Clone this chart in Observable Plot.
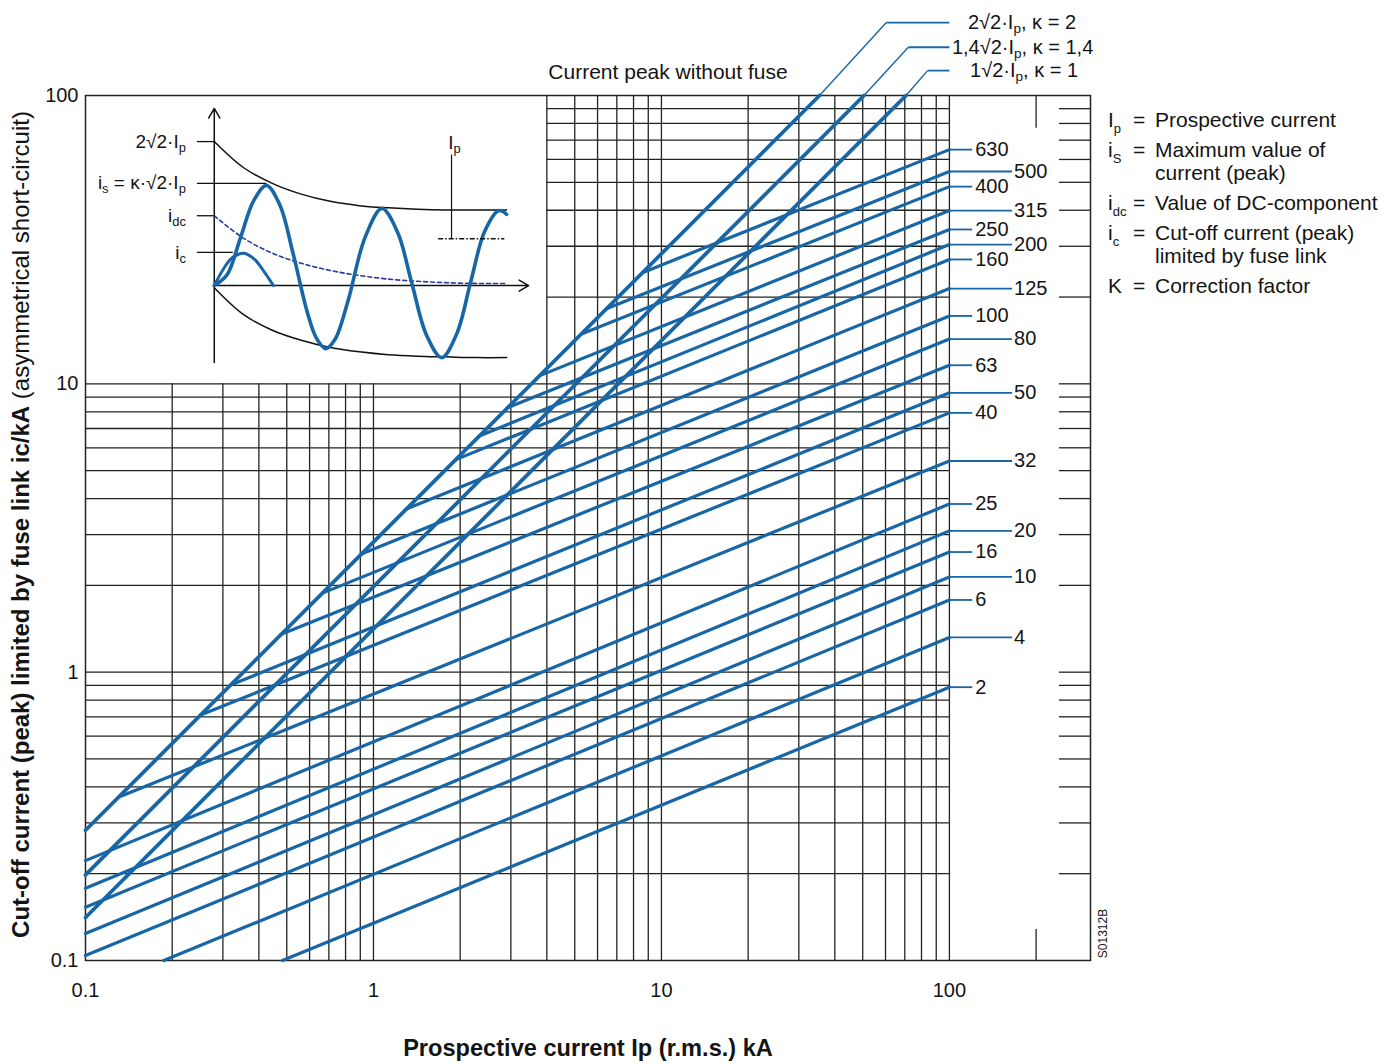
<!DOCTYPE html>
<html>
<head>
<meta charset="utf-8">
<script src="https://cdn.jsdelivr.net/npm/d3@7"></script>
<script src="https://cdn.jsdelivr.net/npm/@observablehq/plot@0.6"></script>
<style>
  html, body { margin: 0; padding: 0; background: #fff; }
  body { font-family: "Liberation Sans", Arial, Helvetica, sans-serif; color: #141414; }
  #wrap { position: relative; width: 1400px; height: 1064px; overflow: hidden; }
  #wrap svg { display: block; }
  #inset { position: absolute; left: 85px; top: 95px; width: 460px; height: 288px; }
  .leg { position: absolute; left: 1108px; font-size: 21px; line-height: 23px; white-space: nowrap; }
  .leg .sym { display: inline-block; width: 25px; }
  .leg .eq { display: inline-block; width: 22px; }
  .leg .cont { margin-left: 47px; }
  .leg sub { font-size: 13px; vertical-align: -6px; line-height: 0; }
</style>
</head>
<body>
<div id="wrap">
  <div id="main"></div>
  <div id="inset"></div>
  <div class="leg" style="top:108px"><span class="sym">I<sub>p</sub></span><span class="eq">=</span>Prospective current</div>
  <div class="leg" style="top:138px"><span class="sym">i<sub>S</sub></span><span class="eq">=</span>Maximum value of<div class="cont">current (peak)</div></div>
  <div class="leg" style="top:191px"><span class="sym">i<sub>dc</sub></span><span class="eq">=</span>Value of DC-component</div>
  <div class="leg" style="top:221px"><span class="sym">i<sub>c</sub></span><span class="eq">=</span>Cut-off current (peak)<div class="cont">limited by fuse link</div></div>
  <div class="leg" style="top:274px"><span class="sym">K</span><span class="eq">=</span>Correction factor</div>
</div>
<script>
// ---------------- data ----------------
const xTickValues = [0.1, 1, 10, 100];
const xTickLabels = ["0.1", "1", "10", "100"];
const yTickValues = [0.1, 1, 10, 100];
const yTickLabels = ["0.1", "1", "10", "100"];
const gridValues = [0.2, 0.3, 0.4, 0.5, 0.6, 0.7, 0.8, 0.9, 1, 2, 3, 4, 5, 6, 7, 8, 9, 10, 20, 30, 40, 50, 60, 70, 80, 90];

// fuse link ratings (A), start point (Ip kA, ic kA) and cut-off current at Ip = 100 kA
const fuseRatings = [2, 4, 6, 10, 16, 20, 25, 32, 40, 50, 63, 80, 100, 125, 160, 200, 250, 315, 400, 500, 630];
const fuseStartIp = [0.483, 0.187, 0.1, 0.1, 0.1, 0.1, 0.1, 0.130, 0.251, 0.319, 0.476, 0.665, 0.908, 1.30, 1.93, 2.33, 2.92, 3.80, 5.28, 6.44, 8.59];
const fuseStartIc = [0.1, 0.1, 0.104, 0.124, 0.153, 0.178, 0.222, 0.368, 0.710, 0.902, 1.35, 1.88, 2.57, 3.68, 5.46, 6.59, 8.26, 10.7, 14.9, 18.2, 24.3];
const fuseEndIc = [0.887, 1.32, 1.78, 2.14, 2.61, 3.09, 3.83, 5.40, 7.93, 9.31, 11.6, 14.3, 17.2, 21.4, 27.0, 30.4, 34.3, 39.9, 48.3, 54.5, 64.9];
const fuseEndIp = 100;
const fuseLongLeader = [false, true, false, true, false, true, false, true, false, true, false, true, false, true, false, true, false, true, false, true, false];

// current peak without fuse: i = kappa * sqrt2 * Ip
const kappaValues = [2, 1.4, 1];
const kappaLabels = ["2√2·I_{p}, κ = 2", "1,4√2·I_{p}, κ = 1,4", "1√2·I_{p}, κ = 1"];
const kappaStartIp = [0.1, 0.1, 0.1];
const kappaStartIc = [0.283, 0.198, 0.141];
const kappaTopIp = [35.4, 50.5, 70.7];
const kappaTopIc = [100, 100, 100];
const kappaElbowIp = [60.4, 72, 84];
const kappaElbowIc = [179, 147, 122];
const kappaLabelIp = [116, 102, 118];

// inset schematic: time (ms) and current (units of √2·Ip)
const waveT = [0, 2.2, 4.5, 6.8, 9.0, 11.3, 13.6, 16.0, 17.6, 19.2, 20.8, 23.0, 26.0, 28.9, 31.6, 34.0, 36.6, 39.2, 41.8, 44.2, 46.6, 49.0, 50.4];
const waveI = [0, 0.15, 0.66, 1.18, 1.39, 1.12, 0.44, -0.36, -0.73, -0.875, -0.75, -0.23, 0.67, 1.07, 0.74, 0.05, -0.69, -1.0, -0.67, 0.05, 0.75, 1.04, 0.99];
const envT = [0, 5, 10, 15, 20, 25, 30, 35, 40, 45, 50.4];
const envUpper = [2.0, 1.64, 1.42, 1.27, 1.17, 1.11, 1.08, 1.06, 1.05, 1.05, 1.05];
const envLower = [-0.03, -0.40, -0.62, -0.76, -0.86, -0.92, -0.96, -0.98, -0.99, -1.0, -1.0];
const dcI = [0.97, 0.66, 0.45, 0.31, 0.21, 0.14, 0.09, 0.06, 0.04, 0.03, 0.03];
const arcT = [0, 1.5, 3, 5.1, 7, 8.7, 10.2];
const arcI = [0, 0.22, 0.38, 0.45, 0.36, 0.18, 0.0];
const insetLabels = ["2√2·I_{p}", "i_{s} = κ·√2·I_{p}", "i_{dc}", "i_{c}"];
const insetLabelI = [2.0, 1.42, 0.97, 0.46];
const insetLabelReachT = [0, 9.0, 0, 3.2];

// ---------------- styling ----------------
const FONT = "'Liberation Sans', Arial, Helvetica, sans-serif";
const BLUE = "#1966a6";
const GRID = "#1f2420";
const TEXT = "#141414";

const fuses = fuseRatings.map((r, i) => ({
  rating: r, x1: fuseStartIp[i], y1: fuseStartIc[i], x2: fuseEndIp, y2: fuseEndIc[i], long: fuseLongLeader[i]
}));
const kappas = kappaValues.map((k, i) => ({
  k, label: kappaLabels[i], x0: kappaStartIp[i], y0: kappaStartIc[i], xt: kappaTopIp[i], yt: kappaTopIc[i],
  xe: kappaElbowIp[i], ye: kappaElbowIc[i], xl: kappaLabelIp[i]
}));
const shortF = fuses.filter(d => !d.long);
const longF = fuses.filter(d => d.long);

const main = Plot.plot({
  width: 1400, height: 1064,
  marginTop: 95, marginLeft: 85, marginRight: 310, marginBottom: 104,
  x: {type: "log", domain: [0.1, 309], axis: null},
  y: {type: "log", domain: [0.1, 100], axis: null},
  style: {fontFamily: FONT, background: "white", overflow: "visible"},
  marks: [
    // grid
    Plot.ruleX(gridValues.concat([100]), {x: d => d, y1: () => 0.1, y2: d => (d >= 4 ? 100 : 10), stroke: GRID, strokeWidth: 1.3}),
    Plot.ruleY(gridValues, {y: d => d, x1: d => (d > 10 ? 4 : 0.1), x2: () => 100, stroke: GRID, strokeWidth: 1.3}),
    Plot.ruleY(gridValues, {y: d => d, x1: () => 241, x2: () => 309, stroke: GRID, strokeWidth: 1.3}),
    Plot.ruleX([200], {x: d => d, y1: () => 77, y2: () => 100, stroke: GRID, strokeWidth: 1.3}),
    Plot.ruleX([200], {x: d => d, y1: () => 0.1, y2: () => 0.128, stroke: GRID, strokeWidth: 1.3}),
    Plot.frame({stroke: GRID, strokeWidth: 1.5}),
    // fuse cut-off lines
    Plot.link(fuses, {x1: "x1", y1: "y1", x2: "x2", y2: "y2", stroke: BLUE, strokeWidth: 3.2, strokeLinecap: "round"}),
    // fuse leaders
    Plot.link(shortF, {x1: "x2", y1: "y2", x2: () => 120, y2: "y2", stroke: BLUE, strokeWidth: 1.8}),
    Plot.link(longF, {x1: "x2", y1: "y2", x2: () => 165, y2: "y2", stroke: BLUE, strokeWidth: 1.8}),
    Plot.text(shortF, {x: () => 120, y: "y2", text: d => String(d.rating), textAnchor: "start", dx: 3, fontSize: 20, fill: TEXT}),
    Plot.text(longF, {x: () => 165, y: "y2", text: d => String(d.rating), textAnchor: "start", dx: 2, fontSize: 20, fill: TEXT}),
    // current peak without fuse
    Plot.link(kappas, {x1: "x0", y1: "y0", x2: "xt", y2: "yt", stroke: BLUE, strokeWidth: 3.8, strokeLinecap: "round"}),
    Plot.link(kappas, {x1: "xt", y1: "yt", x2: "xe", y2: "ye", stroke: BLUE, strokeWidth: 1.4}),
    Plot.link(kappas, {x1: "xe", y1: "ye", x2: () => 100, y2: "ye", stroke: BLUE, strokeWidth: 1.8}),
    Plot.text(kappas, {x: "xl", y: "ye", text: "label", textAnchor: "start", fontSize: 20, fill: TEXT}),
    // tick labels
    Plot.text(xTickValues, {x: d => d, frameAnchor: "bottom", lineAnchor: "middle", textAnchor: "middle", dy: 30, text: (d, i) => xTickLabels[i], fontSize: 20, fill: TEXT}),
    Plot.text(yTickValues, {y: d => d, frameAnchor: "left", lineAnchor: "middle", dx: -7, textAnchor: "end", text: (d, i) => yTickLabels[i], fontSize: 20, fill: TEXT}),
    // titles
    Plot.text(["Prospective current Ip (r.m.s.) kA"], {frameAnchor: "bottom", lineAnchor: "middle", textAnchor: "middle", dy: 88, fontSize: 23.6, fontWeight: "bold", fill: TEXT}),
    Plot.text(["Cut-off current (peak) limited by fuse link ic/kA (asymmetrical short-circuit)"], {frameAnchor: "left", lineAnchor: "middle", textAnchor: "middle", dx: -64, dy: -3.5, rotate: -90, fontSize: 24, fill: TEXT}),
    Plot.text(["Current peak without fuse"], {frameAnchor: "top", lineAnchor: "middle", textAnchor: "middle", dx: 80, dy: -23, fontSize: 21, fill: TEXT}),
    Plot.text(["S01312B"], {frameAnchor: "bottom-right", lineAnchor: "middle", textAnchor: "middle", dx: 13, dy: -27, rotate: -90, fontSize: 12, fill: TEXT})
  ]
});
document.getElementById("main").appendChild(main);

// ---------------- inset schematic ----------------
const wave = waveT.map((t, i) => ({t, i: waveI[i]}));
const upper = envT.map((t, i) => ({t, i: envUpper[i]}));
const lower = envT.map((t, i) => ({t, i: envLower[i]}));
const dc = envT.map((t, i) => ({t, i: dcI[i]}));
const arc = arcT.map((t, i) => ({t, i: arcI[i]}));
const lab = insetLabels.map((s, k) => ({s, i: insetLabelI[k], reach: insetLabelReachT[k]}));

const inset = Plot.plot({
  width: 460, height: 288,
  marginTop: 0, marginLeft: 0, marginRight: 0, marginBottom: 0,
  x: {domain: [-22.2, 57.1], axis: null},
  y: {domain: [-1.36, 2.64], axis: null},
  style: {fontFamily: FONT, background: "transparent", overflow: "visible"},
  marks: [
    Plot.arrow([0], {x1: () => 0, x2: () => 0, y1: () => -1.07, y2: () => 2.46, stroke: "#111", strokeWidth: 1.5, headLength: 11}),
    Plot.arrow([0], {x1: () => 0, x2: () => 54.2, y1: () => 0, y2: () => 0, stroke: "#111", strokeWidth: 1.5, headLength: 11}),
    Plot.line(upper, {x: "t", y: "i", stroke: "#111", strokeWidth: 1.5, curve: "catmull-rom"}),
    Plot.line(lower, {x: "t", y: "i", stroke: "#111", strokeWidth: 1.5, curve: "catmull-rom"}),
    Plot.line(dc, {x: "t", y: "i", stroke: "#2b3c9b", strokeWidth: 1.6, strokeDasharray: "4,3", curve: "catmull-rom"}),
    Plot.link(lab, {x1: () => -3.0, x2: "reach", y1: "i", y2: "i", stroke: "#111", strokeWidth: 1.3}),
    Plot.line(wave, {x: "t", y: "i", stroke: BLUE, strokeWidth: 3.6, curve: "catmull-rom"}),
    Plot.line(arc, {x: "t", y: "i", stroke: BLUE, strokeWidth: 3, curve: "catmull-rom"}),
    Plot.link([0], {x1: () => 40.9, x2: () => 40.9, y1: () => 1.82, y2: () => 0.65, stroke: "#111", strokeWidth: 1.2}),
    Plot.link([0], {x1: () => 38.6, x2: () => 50.0, y1: () => 0.65, y2: () => 0.65, stroke: "#111", strokeWidth: 1.4, strokeDasharray: "5,2,1.5,2"}),
    Plot.text(["I_{p}"], {x: () => 40.9, y: () => 1.98, dx: 3, fontSize: 19, fill: TEXT}),
    Plot.text(lab, {x: () => -4.9, y: "i", text: "s", textAnchor: "end", fontSize: 19, fill: TEXT})
  ]
});
document.getElementById("inset").appendChild(inset);

// ---------------- text post-processing (subscripts, mixed weights) ----------------
function applySubs(svg) {
  d3.select(svg).selectAll("text").each(function () {
    const t = this.textContent;
    if (t.indexOf("_{") < 0) return;
    const parts = t.split(/_\{([^}]*)\}/);
    while (this.firstChild) this.removeChild(this.firstChild);
    const sel = d3.select(this);
    parts.forEach((p, k) => {
      if (!p) return;
      const ts = sel.append("tspan").text(p);
      if (k % 2 === 1) ts.attr("font-size", "68%").attr("baseline-shift", "-28%");
    });
  });
}
applySubs(main);
applySubs(inset);

d3.select(main).selectAll("text").each(function () {
  const t = this.textContent;
  if (t.startsWith("Cut-off current")) {
    while (this.firstChild) this.removeChild(this.firstChild);
    const sel = d3.select(this);
    sel.append("tspan").attr("font-weight", "bold").text("Cut-off current (peak) limited by fuse link ic/kA");
    sel.append("tspan").attr("font-weight", "normal").text(" (asymmetrical short-circuit)");
  }
});
</script>
</body>
</html>
